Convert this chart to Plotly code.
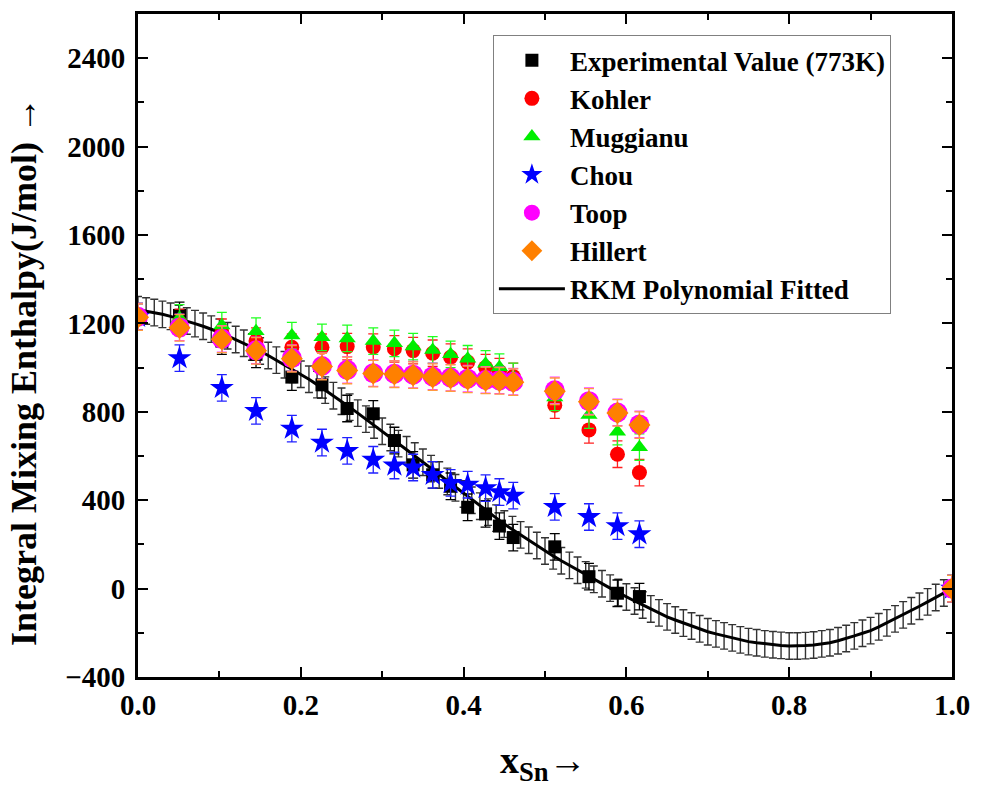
import plotly.graph_objects as go

# ---------------- data ----------------
x_model = [0.0, 0.051, 0.103, 0.145, 0.189, 0.226, 0.257, 0.289, 0.315, 0.338,
           0.362, 0.384, 0.405, 0.427, 0.444, 0.461, 0.512, 0.554, 0.589, 0.616, 1.0]
kohler = [1230, 1205, 1160, 1120, 1092, 1092, 1095, 1093, 1085, 1077,
          1065, 1047, 1025, 1000, 982, 960, 830, 718, 608, 525, 0]
muggianu = [1230, 1225, 1190, 1165, 1145, 1137, 1132, 1120, 1110, 1095,
            1080, 1060, 1040, 1017, 1002, 960, 865, 785, 710, 640, 0]
chou = [1230, 1043, 908, 804, 724, 661, 623, 583, 557, 548,
        515, 478, 470, 455, 437, 421, 370, 324, 283, 246, 0]
toop = [1230, 1182, 1130, 1078, 1043, 1007, 990, 975, 972, 968,
        960, 955, 950, 944, 942, 936, 897, 848, 797, 743, 0]
hillert = [1228, 1180, 1128, 1076, 1040, 1005, 987, 973, 970, 966,
           957, 953, 947, 942, 940, 934, 893, 845, 795, 740, 0]

x_exp = [0.051, 0.103, 0.145, 0.189, 0.226, 0.257, 0.289, 0.315, 0.338, 0.362,
         0.384, 0.405, 0.427, 0.444, 0.461, 0.512, 0.554, 0.589, 0.616]
y_exp = [1236, 1120, 1060, 957, 922, 815, 791, 670, 560, 515,
         463, 368, 338, 283, 231, 189, 54, -21, -36]

x_fit = [i / 100 for i in range(101)]
y_fit = [1262, 1256, 1249, 1241, 1232,
         1222, 1211, 1199, 1187, 1174,
         1160, 1144, 1127, 1110, 1093,
         1075, 1055, 1034, 1013, 992,
         970, 947, 923, 898, 873,
         848, 821, 794, 767, 740,
         712, 684, 656, 628, 600,
         572, 543, 514, 485, 456,
         428, 400, 373, 346, 319,
         292, 267, 243, 219, 195,
         170, 148, 126, 105, 83,
         62, 42, 22, 2, -18,
         -38, -56, -74, -92, -110,
         -128, -142, -156, -169, -182,
         -195, -205, -214, -223, -232,
         -240, -245, -250, -254, -257,
         -260, -260, -258, -255, -250,
         -245, -236, -226, -214, -202,
         -190, -173, -155, -137, -119,
         -100, -80, -60, -40, -20,
         0]
err_model = 60
err_exp = 60
err_fit = 60

FONT = "Liberation Serif"

fig = go.Figure()

fig.add_trace(go.Scatter(
    x=x_fit, y=y_fit, mode="lines", name="RKM Polynomial Fitted",
    line=dict(color="black", width=3), legendrank=1000,
    error_y=dict(type="constant", value=err_fit, color="#333333", thickness=1.4, width=4),
))

fig.add_trace(go.Scatter(
    x=x_exp, y=y_exp, mode="markers", name="Experimental Value (773K)",
    marker=dict(symbol="square", size=13, color="black"), legendrank=1,
    error_y=dict(type="constant", value=err_exp, color="black", thickness=1.3, width=5),
))

series = [
    ("Kohler", kohler, "circle", 15, "#ff0000", "#ff2020", 2),
    ("Muggianu", muggianu, "triangle-up", 15, "#00ee00", "#20ff20", 3),
    ("Chou", chou, "star", 18, "#0000ff", "#2020ff", 4),
    ("Toop", toop, "circle", 20, "#ff00ff", "#ff40ff", 5),
    ("Hillert", hillert, "diamond", 17, "#ff8000", "#ff9a40", 6),
]
for name, vals, sym, size, col, ecol, rank in series:
    fig.add_trace(go.Scatter(
        x=x_model, y=vals, mode="markers", name=name,
        marker=dict(symbol=sym, size=size, color=col, line=dict(width=0)),
        legendrank=rank,
        error_y=dict(type="constant", value=err_model, color=ecol, thickness=1.3, width=5),
    ))

axis_common = dict(
    showline=True, linecolor="black", linewidth=3, mirror="allticks",
    ticks="inside", ticklen=10, tickwidth=2, tickcolor="black",
    showgrid=False, zeroline=False,
    tickfont=dict(family=FONT, size=29, color="black", weight="bold"),
)

fig.update_xaxes(range=[0, 1], dtick=0.2, tick0=0, tickformat=".1f",
                 minor=dict(ticks="inside", ticklen=6, tickwidth=2, dtick=0.1, tickcolor="black"),
                 ticklabelstandoff=0, **axis_common)
fig.update_yaxes(range=[-400, 2600], dtick=400, tick0=-400,
                 minor=dict(ticks="inside", ticklen=6, tickwidth=2, dtick=200, tickcolor="black"),
                 ticklabelstandoff=4, **axis_common)

fig.add_annotation(
    text="Integral Mixing Enthalpy(J/mol) →", textangle=-90,
    xref="paper", yref="paper", x=-0.14, y=0.46, xanchor="center", yanchor="middle",
    showarrow=False, font=dict(family=FONT, size=36, color="black", weight="bold"),
)
fig.add_annotation(
    text="x<sub>Sn</sub>→",
    xref="paper", yref="paper", x=0.498, y=-0.13, xanchor="center", yanchor="middle",
    showarrow=False, font=dict(family=FONT, size=38, color="black", weight="bold"),
)

fig.update_layout(
    width=981, height=789,
    margin=dict(l=138, r=20, t=11, b=112),
    paper_bgcolor="white", plot_bgcolor="white",
    showlegend=True,
    legend=dict(
        x=0.436, y=0.968, xanchor="left", yanchor="top",
        bgcolor="white", bordercolor="#808080", borderwidth=1,
        font=dict(family=FONT, size=27, color="black", weight="bold"),
        tracegroupgap=0, itemsizing="trace", itemwidth=66,
    ),
)

fig.write_html("out.html")
